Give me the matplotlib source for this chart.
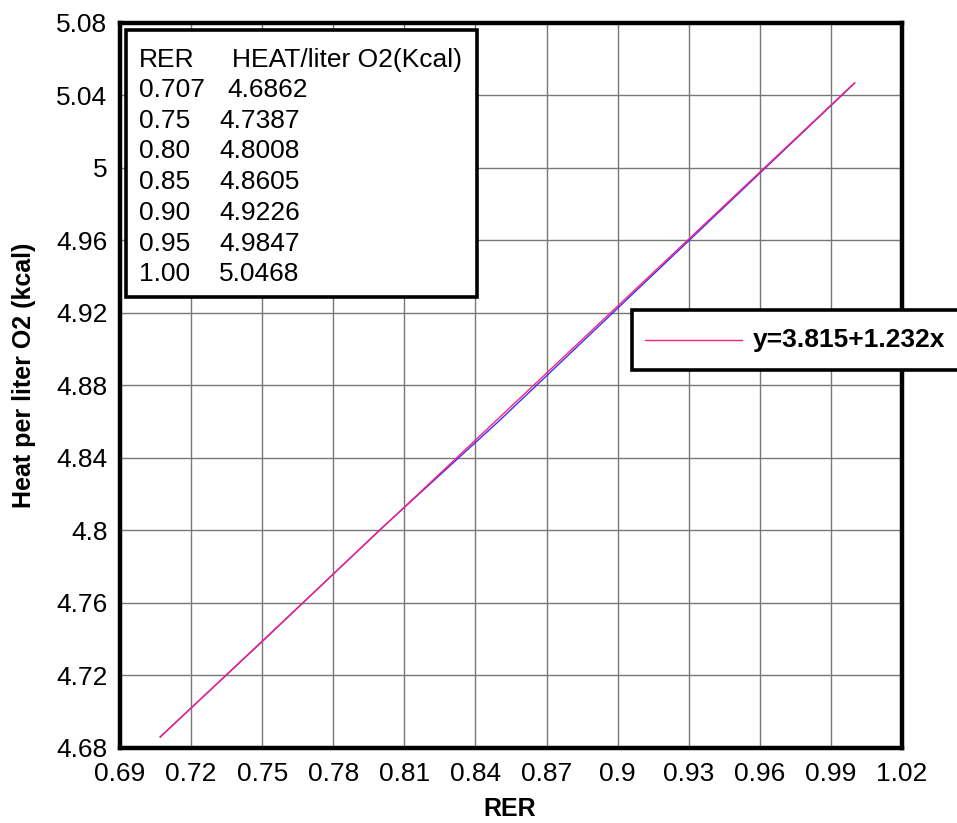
import numpy as np
import matplotlib
matplotlib.use("Agg")
import matplotlib.pyplot as plt
from matplotlib.patches import Rectangle
from matplotlib.lines import Line2D

plt.rcParams['font.family'] = ['Liberation Sans', 'DejaVu Sans']

# Data
rer = [0.707, 0.75, 0.80, 0.85, 0.90, 0.95, 1.00]
rer_labels = ["0.707", "0.75", "0.80", "0.85", "0.90", "0.95", "1.00"]
heat = [4.6862, 4.7387, 4.8008, 4.8605, 4.9226, 4.9847, 5.0468]
intercept = 3.815
slope = 1.232
x_ticks = [0.69, 0.72, 0.75, 0.78, 0.81, 0.84, 0.87, 0.90, 0.93, 0.96, 0.99, 1.02]
y_ticks = [4.68, 4.72, 4.76, 4.80, 4.84, 4.88, 4.92, 4.96, 5.00, 5.04, 5.08]

W, H = 957, 823
fig = plt.figure(figsize=(W / 100, H / 100), dpi=100)
L, R, T, B = 120, 902, 23, 748
ax = fig.add_axes([L / W, 1 - B / H, (R - L) / W, (B - T) / H])

fs = 19

ax.plot(rer, heat, color='#3333ff', lw=1.0, zorder=3)
fit_x = np.array([rer[0], rer[-1]])
ax.plot(fit_x, intercept + slope * fit_x, color='#ff1f7a', lw=1.0, zorder=4)

ax.set_xlim(x_ticks[0], x_ticks[-1])
ax.set_ylim(y_ticks[0], y_ticks[-1])
ax.set_xticks(x_ticks)
ax.set_yticks(y_ticks)
ax.set_xticklabels(['%g' % round(v, 2) for v in x_ticks])
ax.set_yticklabels(['%g' % round(v, 2) for v in y_ticks])
ax.tick_params(axis='both', length=0, labelsize=fs)
ax.tick_params(axis='x', pad=10)
ax.tick_params(axis='y', pad=9)
ax.grid(True, color='#777777', lw=1.0)
ax.set_axisbelow(True)
for s in ax.spines.values():
    s.set_linewidth(3.2)
    s.set_color('black')
    s.set_zorder(6)

fig.text(24 / W, 1 - 375 / H, 'Heat per liter O2 (kcal)', rotation=90,
         ha='center', va='center', fontsize=18, fontweight='bold')
fig.text(510 / W, 1 - 809 / H, 'RER', ha='center', va='center',
         fontsize=18, fontweight='bold')

# Table box
fig.patches.append(Rectangle((126 / W, 1 - 297 / H), (477 - 126) / W, (297 - 30) / H,
                             transform=fig.transFigure, facecolor='white',
                             edgecolor='black', lw=2.6, zorder=10))
fig.text(139 / W, 1 - 60 / H, 'RER', fontsize=fs, va='center', ha='left', zorder=11)
fig.text(232 / W, 1 - 60 / H, 'HEAT/liter O2(Kcal)', fontsize=fs, va='center', ha='left', zorder=11)
for i, (lab, hv) in enumerate(zip(rer_labels, heat)):
    y = 90 + i * 30.7
    fig.text(139 / W, 1 - y / H, lab, fontsize=fs, va='center', ha='left', zorder=11)
    xo = 227 if i == 0 else 219
    fig.text(xo / W, 1 - y / H, '%.4f' % hv, fontsize=fs, va='center', ha='left', zorder=11)

# Equation legend box (runs off right edge)
fig.patches.append(Rectangle((632 / W, 1 - 370 / H), 340 / W, 60 / H,
                             transform=fig.transFigure, facecolor='white',
                             edgecolor='black', lw=2.6, zorder=10))
fig.lines.append(Line2D([645 / W, 742 / W], [1 - 340 / H, 1 - 340 / H],
                        transform=fig.transFigure, color='#ff1f7a', lw=1.0, zorder=11))
fig.text(753 / W, 1 - 340 / H, 'y=%.3f+%.3fx' % (intercept, slope), fontsize=fs,
         fontweight='bold', va='center', ha='left', zorder=11)

fig.savefig('out.png', dpi=100, facecolor='white')
